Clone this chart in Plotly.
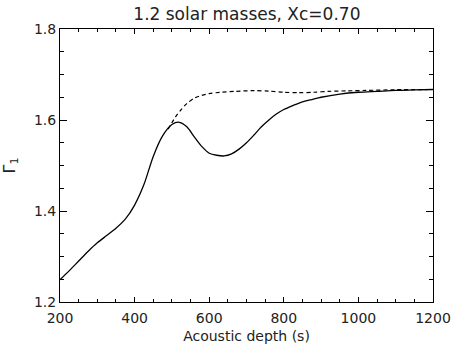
import plotly.graph_objects as go

# Solid curve (model with glitch)
solid_x = [200, 225, 250, 275, 300, 325, 350, 375, 400, 425, 450, 475, 500, 520,
           540, 560, 580, 600, 620, 640, 660, 680, 700, 720, 740, 760, 780, 800,
           825, 850, 875, 900, 950, 1000, 1050, 1100, 1150, 1200]
solid_y = [1.249, 1.269, 1.290, 1.311, 1.330, 1.346, 1.362, 1.382, 1.413, 1.458,
           1.520, 1.565, 1.590, 1.595, 1.585, 1.563, 1.542, 1.527, 1.5225, 1.521,
           1.5255, 1.536, 1.550, 1.567, 1.585, 1.600, 1.613, 1.623, 1.632, 1.640,
           1.645, 1.650, 1.657, 1.661, 1.663, 1.665, 1.666, 1.667]

# Dashed curve (smooth model)
dash_x = [490, 500, 510, 525, 540, 560, 580, 600, 630, 670, 720, 760, 800, 840,
          880, 920, 970, 1020, 1100, 1200]
dash_y = [1.580, 1.594, 1.607, 1.623, 1.636, 1.648, 1.654, 1.658, 1.661, 1.663,
          1.6645, 1.6635, 1.661, 1.660, 1.661, 1.663, 1.664, 1.665, 1.6665, 1.667]

x_ticks = [200, 400, 600, 800, 1000, 1200]
y_ticks = [1.2, 1.4, 1.6, 1.8]

FONT = "DejaVu Sans"
TXT = "#222"

fig = go.Figure()
fig.add_trace(go.Scatter(x=dash_x, y=dash_y, mode="lines",
                         line=dict(color="black", width=1.2, dash="4px,3px",
                                   shape="spline", smoothing=0.8),
                         showlegend=False))
fig.add_trace(go.Scatter(x=solid_x, y=solid_y, mode="lines",
                         line=dict(color="black", width=1.3, shape="spline", smoothing=0.8),
                         showlegend=False))

fig.update_layout(
    width=453, height=351,
    margin=dict(l=60, r=20, t=29, b=49),
    paper_bgcolor="white", plot_bgcolor="white",
    font=dict(family=FONT, color=TXT, size=14),
    title=dict(text="1.2 solar masses, Xc=0.70", x=0.545, xanchor="center",
               y=1 - 14 / 351, yanchor="middle", yref="container",
               font=dict(family=FONT, size=17, color=TXT)),
)
fig.update_xaxes(
    range=[200, 1200], tickvals=x_ticks, ticktext=[str(v) for v in x_ticks],
    ticks="inside", ticklen=5, tickwidth=1, tickcolor="black",
    showline=True, linecolor="black", linewidth=1, mirror="ticks",
    showgrid=False, zeroline=False, automargin=False,
    minor=dict(dtick=50, ticks="inside", ticklen=3, tickcolor="black", showgrid=False),
    title=dict(text="Acoustic depth (s)", standoff=6, font=dict(size=14)),
    tickfont=dict(size=14), ticklabelstandoff=3,
)
fig.update_yaxes(
    range=[1.2, 1.8], tickvals=y_ticks, ticktext=["1.2", "1.4", "1.6", "1.8"],
    ticks="inside", ticklen=7, tickwidth=1, tickcolor="black",
    showline=True, linecolor="black", linewidth=1, mirror="ticks",
    showgrid=False, zeroline=False, automargin=False,
    minor=dict(dtick=0.05, ticks="inside", ticklen=4, tickcolor="black", showgrid=False),
    title=dict(text="Γ<sub>1</sub>", standoff=14, font=dict(size=16)),
    tickfont=dict(size=14),
)

fig.write_html("out.html")
